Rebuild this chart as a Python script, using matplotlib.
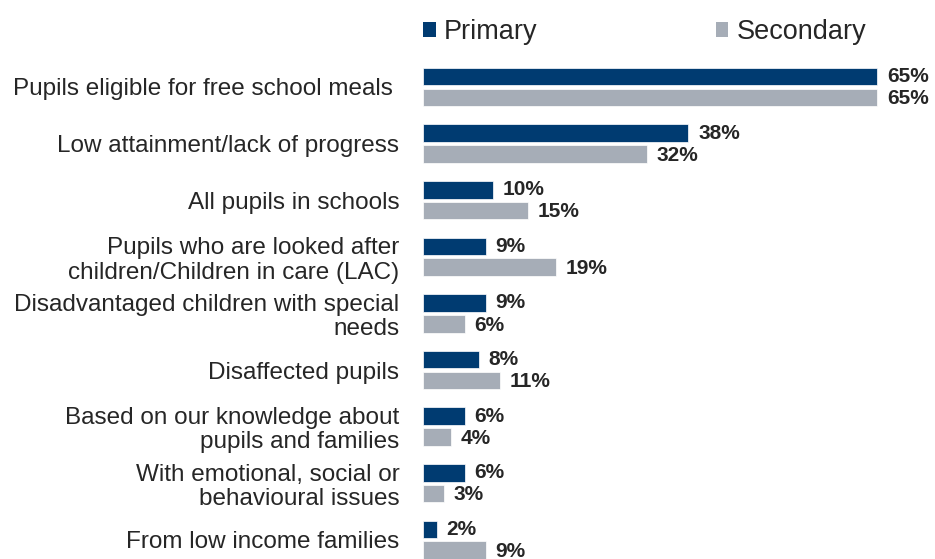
import matplotlib
matplotlib.use("Agg")
import matplotlib.pyplot as plt
from matplotlib.patches import Patch
import numpy as np

categories = [
    "Pupils eligible for free school meals ",
    "Low attainment/lack of progress",
    "All pupils in schools",
    "Pupils who are looked after\nchildren/Children in care (LAC)",
    "Disadvantaged children with special\nneeds",
    "Disaffected pupils",
    "Based on our knowledge about\npupils and families",
    "With emotional, social or\nbehavioural issues",
    "From low income families",
]
primary = [65, 38, 10, 9, 9, 8, 6, 6, 2]
secondary = [65, 32, 15, 19, 6, 11, 4, 3, 9]
series_names = ["Primary", "Secondary"]

c_primary = "#003B71"
c_secondary = "#A6ADB7"

plt.rcParams['font.family'] = ['Liberation Sans', 'DejaVu Sans']

fig = plt.figure(figsize=(9.35, 5.59), dpi=100)
W, H = 935, 559
left_px, right_px = 423, 935
top_px, bottom_px = 60, 559
ax = fig.add_axes([left_px / W, 1 - bottom_px / H, (right_px - left_px) / W, (bottom_px - top_px) / H])

y = np.arange(len(categories))
h = 0.31
off = 0.185
ax.barh(y - off, primary, height=h, color=c_primary, edgecolor="white", linewidth=0.5)
ax.barh(y + off, secondary, height=h, color=c_secondary, edgecolor="white", linewidth=0.5)

for yi, v in zip(y, primary):
    ax.text(v + 1.4, yi - off, f"{v}%", va="center", ha="left", fontsize=15,
            fontweight="bold", color="#262626")
for yi, v in zip(y, secondary):
    ax.text(v + 1.4, yi + off + 0.02, f"{v}%", va="center", ha="left", fontsize=15,
            fontweight="bold", color="#262626")

ax.set_xlim(0, (right_px - left_px) / (454 / 65))
ax.set_ylim((bottom_px - 87) / 56.6, -(87 - top_px) / 56.6)
ax.set_yticks(y)
ax.set_yticklabels(categories, fontsize=17.5, color="#262626", linespacing=1.13)
ax.tick_params(axis="y", length=0, pad=17)
ax.set_xticks([])
for s in ax.spines.values():
    s.set_visible(False)

handles = [Patch(facecolor=c_primary, edgecolor="none"),
           Patch(facecolor=c_secondary, edgecolor="none")]
fig.legend(handles, series_names, loc="upper left", bbox_to_anchor=(418 / W, 1 - 14 / H),
           ncol=2, frameon=False, fontsize=19.5, handlelength=0.45, handleheight=0.45,
           handletextpad=0.3, columnspacing=6.6, labelcolor="#262626", borderaxespad=0,
           borderpad=0.2)

fig.savefig("out.png", dpi=100)
